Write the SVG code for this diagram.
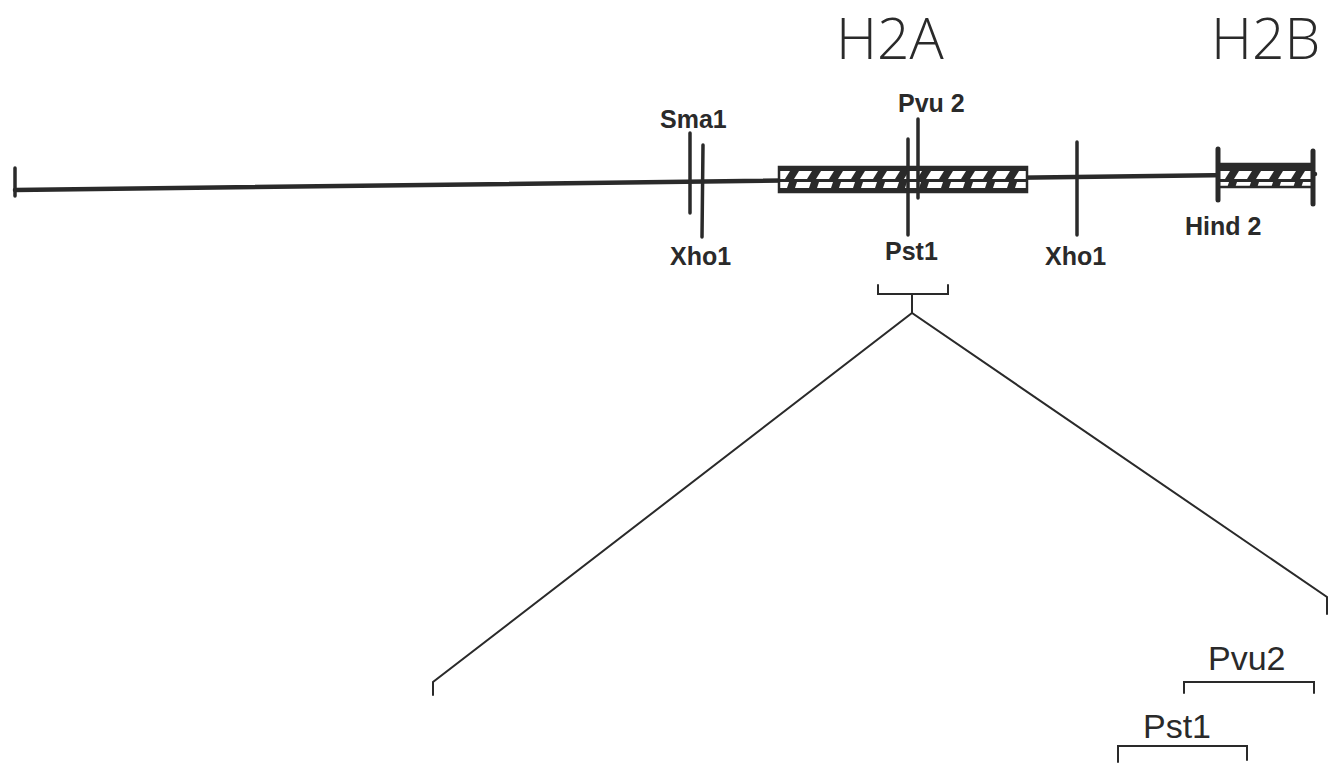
<svg xmlns="http://www.w3.org/2000/svg" width="1343" height="765" viewBox="0 0 1343 765">
<defs>
<style>
.ln{stroke:#2a2a2a;fill:none;stroke-linecap:round}
.main{stroke-width:4.5}
.tick{stroke-width:3.5}
.thin{stroke-width:2}
.lab{font-family:"Liberation Sans",Arial,sans-serif;font-weight:bold;font-size:25px;fill:#2a2a2a}
.big{font-family:"Open Sans","Liberation Sans",Arial,sans-serif;font-weight:300;font-size:57px;fill:#2a2a2a}
.sub{font-family:"Liberation Sans",Arial,sans-serif;font-size:34px;fill:#2a2a2a}
</style>
<pattern id="hatch" width="22" height="24" patternUnits="userSpaceOnUse">
<rect width="22" height="24" fill="#2a2a2a"/>
<path d="M2 11 L7 3 L20 3 L15 11 Z" fill="#fff"/>
<path d="M3 20 L5 14 L19 14 L17 20 Z" fill="#fff"/>
</pattern>
</defs>
<rect width="1343" height="765" fill="#fff"/>
<g id="titles">
<text class="big" x="836" y="59">H2A</text>
<text class="big" x="1211" y="59">H2B</text>
</g>
<g id="backbone">
<line class="ln main" x1="15" y1="190" x2="1315" y2="174"/>
<line class="ln tick" x1="15" y1="168" x2="15" y2="196"/>
</g>
<g id="h2a-gene">
<rect x="779" y="167" width="248" height="25" fill="url(#hatch)" stroke="#2a2a2a" stroke-width="2.5"/>
</g>
<g id="h2b-gene">
<rect x="1218" y="164" width="95" height="23" fill="url(#hatch)" stroke="#2a2a2a" stroke-width="2.5"/>
<line class="ln" stroke-width="5" x1="1218" y1="149" x2="1218" y2="200"/>
<line class="ln" stroke-width="5" x1="1313" y1="151" x2="1313" y2="204"/>
<text class="lab" x="1185" y="235">Hind 2</text>
</g>
<g id="sma1">
<line class="ln tick" x1="690" y1="133" x2="690" y2="213"/>
<text class="lab" x="660" y="128">Sma1</text>
</g>
<g id="xho1-left">
<line class="ln tick" x1="703" y1="145" x2="702" y2="237"/>
<text class="lab" x="670" y="265">Xho1</text>
</g>
<g id="pst1">
<line class="ln tick" x1="908" y1="139" x2="908" y2="235"/>
<text class="lab" x="885" y="260">Pst1</text>
</g>
<g id="pvu2">
<line class="ln tick" x1="918" y1="119" x2="918" y2="198"/>
<text class="lab" x="898" y="112">Pvu 2</text>
</g>
<g id="xho1-right">
<line class="ln tick" x1="1077" y1="142" x2="1077" y2="235"/>
<text class="lab" x="1045" y="265">Xho1</text>
</g>
<g id="connectors">
<path class="ln thin" d="M878 285 L878 294 L948 294 L948 285"/>
<path class="ln thin" d="M912 294 L912 313"/>
<path class="ln thin" d="M433 695 L433 682 L912 313 L1327 597 L1327 614"/>
</g>
<g id="pvu2-fragment">
<path class="ln thin" d="M1184 693 L1184 682 L1314 682 L1314 693"/>
<text class="sub" x="1208" y="670">Pvu2</text>
</g>
<g id="pst1-fragment">
<path class="ln thin" d="M1118 762 L1118 746 L1247 746 L1247 760"/>
<text class="sub" x="1143" y="738">Pst1</text>
</g>
</svg>
